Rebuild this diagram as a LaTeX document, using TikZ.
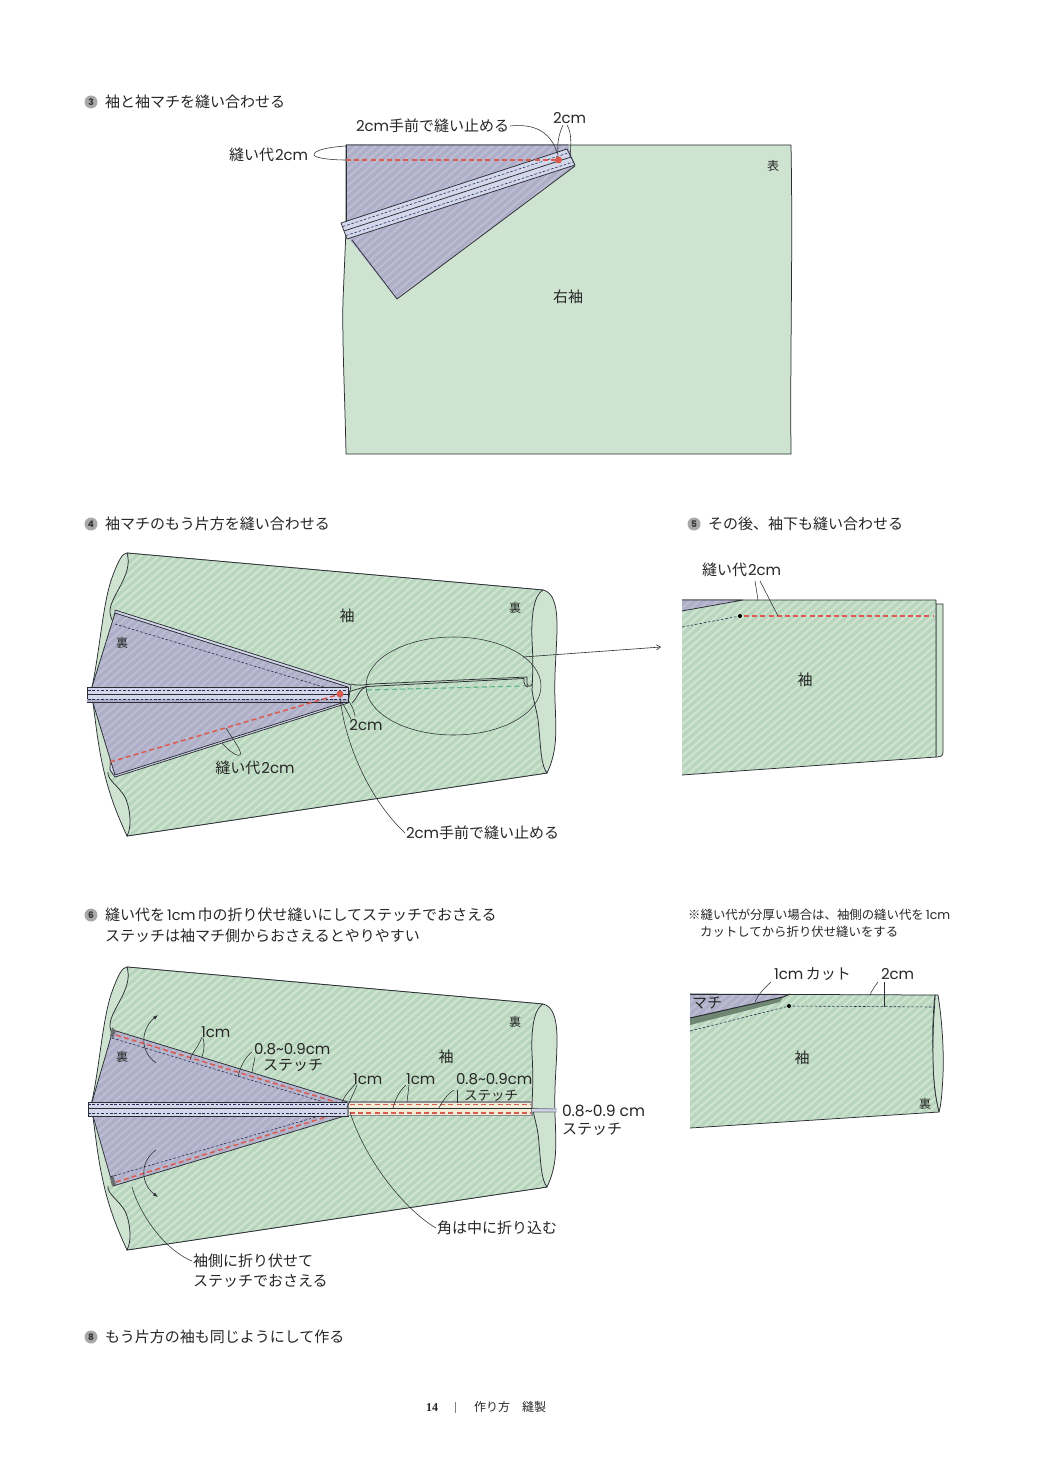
\documentclass[tikz,border=0pt]{standalone}
\usepackage{fontspec}
\setmainfont{Poppins}
\newfontfamily\jp{Noto Sans CJK JP}
\newfontfamily\lat{Poppins}
\newfontfamily\pgfnt{Liberation Serif}
\usetikzlibrary{arrows.meta}
\definecolor{grnbase}{HTML}{CFE4D0}
\definecolor{grnstripe}{HTML}{B7D6BD}
\definecolor{purbase}{HTML}{BCBCD2}
\definecolor{purstripe}{HTML}{AEAEC8}
\definecolor{stripl}{HTML}{D3D7EB}
\definecolor{ink}{HTML}{2A2D33}
\definecolor{navy}{HTML}{2B2F4F}
\definecolor{redd}{HTML}{DD5A4E}
\definecolor{grnd}{HTML}{5DB48C}
\definecolor{cream}{HTML}{F2ECD6}
\definecolor{dkgrn}{HTML}{6E8672}
\definecolor{numgray}{HTML}{A8A8A8}
\newcommand{\hatchfill}[7]{% path, base, stripe, x0, x1, ytop, ybot
  \fill[#2] #1;
  \begin{scope}
    \clip #1;
    \foreach \k in {#4,\the\numexpr#4+9\relax,...,#5}{
      \draw[#3,line width=3.4pt] (\k,#7) -- ({\k+(#7-#6)*1.15},#6);
    }
  \end{scope}}
\newcommand{\sleevepair}{%
  \path[fill=grnbase,draw=ink,edgeline]
    (127,553) -- (543,590) .. controls (553,592) and (557,605) .. (557,625)
    .. controls (557,650) and (554,670) .. (555,700)
    .. controls (556,730) and (558,750) .. (547,773)
    -- (127,836) .. controls (115,810) and (108,790) .. (103,767)
    .. controls (98,745) and (96,725) .. (93,703) -- (92,687)
    .. controls (100,650) and (103,600) .. (113,575)
    .. controls (118,562) and (122,553) .. (127,553) -- cycle;
  \hatchfill{(127,553) -- (543,590) .. controls (534,595) and (531,615) .. (532,640)
    .. controls (533,655) and (533,672) .. (532,690)
    .. controls (534,705) and (538,712) .. (539,730)
    .. controls (541,750) and (541,765) .. (547,773)
    -- (127,836) .. controls (133,825) and (129,805) .. (125,797)
    .. controls (118,785) and (107,780) .. (108,772) -- (115,760) -- (115,625)
    .. controls (108,612) and (110,607) .. (113,600)
    .. controls (120,585) and (132,570) .. (127,553) -- cycle}{grnbase}{grnstripe}{-700}{560}{545}{845}
  \path[draw=ink,edgeline]
    (127,553) -- (543,590) .. controls (534,595) and (531,615) .. (532,640)
    .. controls (533,655) and (533,672) .. (532,690)
    .. controls (534,705) and (538,712) .. (539,730)
    .. controls (541,750) and (541,765) .. (547,773)
    -- (127,836) .. controls (133,825) and (129,805) .. (125,797)
    .. controls (118,785) and (107,780) .. (108,772) (113,622)
    .. controls (108,612) and (110,607) .. (113,600)
    .. controls (120,585) and (132,570) .. (127,553);
}
\tikzset{
  edgeline/.style={line width=0.75pt,line join=round},
  inkline/.style={draw=ink,edgeline},
  leader/.style={draw=ink,line width=0.55pt},
  stitchnavy/.style={draw=navy,line width=0.6pt,dash pattern=on 2.6pt off 1.8pt},
  stitchred/.style={draw=redd,line width=1.5pt,dash pattern=on 5pt off 3.2pt},
  stitchgreen/.style={draw=grnd,line width=1.1pt,dash pattern=on 5pt off 3.2pt},
  txt/.style={inner sep=0pt,outer sep=1pt,text=black!85,font=\fontsize{15}{16}\selectfont},
  ltxt/.style={txt,anchor=west},
  head/.style={inner sep=0pt,anchor=west,text=black!85,font=\fontsize{15}{16}\selectfont\jp},
  note/.style={inner sep=0pt,anchor=west,text=black!85,font=\fontsize{12.4}{13}\selectfont\jp},
  small/.style={inner sep=0pt,text=black!85,font=\fontsize{12}{13}\selectfont\jp},
  num/.style={circle,fill=numgray,inner sep=0pt,minimum size=13pt,text=black!80,font=\fontsize{9}{9}\selectfont\bfseries\lat},
  dotred/.style={circle,fill=redd,inner sep=0pt,minimum size=7pt},
  dotblk/.style={circle,fill=black,inner sep=0pt,minimum size=4pt},
  foldarrow/.style={draw=ink,line width=0.6pt,-{Latex[length=5pt,width=3.5pt]}},
  sharp/.style={draw=ink,line width=0.6pt,-{Straight Barb[length=4pt,width=5pt]}}
}
\begin{document}
\begin{tikzpicture}[x=1pt,y=-1pt]
\fill[white] (0,0) rectangle (1042,1482);
\useasboundingbox (0,0) rectangle (1042,1482);

% ---------- heading 3
\node[num] (n3) at (91,102) {3};
\node[head] (h3) at (105,102) {袖と袖マチを縫い合わせる};

% sleeve panel 3
\path[fill=grnbase,inkline] (346,145) -- (791,145)
  .. controls (793,250) and (790,350) .. (791,454) -- (346,454)
  .. controls (345,400) and (342,340) .. (343,300) -- (346,230) -- cycle;
\node[small] (hyo) at (773,166) {表};
\node[txt] (migi) at (568,297) {\jp 右袖};

% gusset panel 3
\hatchfill{(346,145) -- (568,145) -- (575,166) -- (397,299) -- (346,235) -- cycle}{purbase}{purstripe}{-100}{600}{140}{305}
\draw[inkline] (346,145) -- (568,145) (575,166) -- (397,299) -- (352,240);
\draw[edgeline,draw=ink] (346,145) -- (346,223);
% strip
\path[fill=stripl,inkline] (341,223) -- (567,149) -- (575,165) -- (347,239) -- cycle;
\draw[inkline] (344,231) -- (571,157);
\draw[stitchnavy] (343,226.5) -- (568,153);
\draw[stitchnavy] (346,235.5) -- (573,162);
% seam
\draw[stitchred] (346,160) -- (556,160);
\node[dotred] (d3) at (558.5,160) {};

\node[ltxt] (l3a) at (355,126) {{\lat 2cm}{\jp 手前で縫い止める}};
\node[ltxt] (l3b) at (552,118) {\lat 2cm};
\node[ltxt] (l3c) at (228,155) {{\jp 縫い代}\hspace{1pt}{\lat 2cm}};
\draw[leader] (l3a.east) .. controls (530,124) and (550,128) .. (558,155);
\draw[leader] (563,125) .. controls (559,134) and (557,143) .. (558,152);
\draw[leader] (567,125) .. controls (572,133) and (571,145) .. (570,158);
\draw[leader] (346,146) .. controls (330,147) and (313,150) .. (314,155)
  .. controls (315,158) and (330,160) .. (346,160);

% ---------- heading 4
\node[num] (n4) at (91,524) {4};
\node[head] (h4) at (105,524) {袖マチのもう片方を縫い合わせる};
\sleevepair
% gusset panel 4
\path[fill=stripl,inkline] (115,610) -- (351,685) -- (348,703) -- (115,777) -- (110,770) -- (115,613) -- cycle;
\hatchfill{(115,613) -- (348,687) -- (348,701) -- (115,775) -- (93,703) -- (92,687) -- cycle}{purbase}{purstripe}{-700}{400}{600}{785}
\draw[inkline] (92,687) -- (115,613) -- (348,687) (348,701) -- (115,775) -- (93,703);
\draw[stitchnavy] (115,624) -- (337,691);
\path[fill=stripl,draw=ink,line width=0.6pt] (87,687) -- (348,687) -- (348,702) -- (87,702) -- cycle;
\draw[draw=ink,line width=0.6pt] (87,694.5) -- (348,694.5);
\fill[purstripe] (87.3,699) rectangle (347.7,701.7);
\draw[stitchnavy] (88,690) -- (347,690);
\draw[stitchnavy] (88,699) -- (347,699);
\draw[stitchred] (110,762) -- (337,695);
\node[dotred] (d4) at (340,694) {};
% open seam
\draw[inkline] (351,684) .. controls (358,686) and (362,685) .. (372,684) -- (527,677) -- (527,684)
  .. controls (528,687) and (531,687) .. (532,684);
\draw[inkline] (352,703) .. controls (358,697) and (360,688) .. (367,686.5) -- (524,678.5) -- (524,682)
  .. controls (524,685) and (526,687) .. (528,687);
\draw[inkline] (348,692) .. controls (355,690) and (360,688) .. (367,686.5);
\draw[stitchgreen] (367,690) -- (524,686);
\draw[leader] (453.5,686) ellipse [x radius=87.5pt,y radius=49pt];
\coordinate (a4s) at (523,657);
\coordinate (a4e) at (661,647);
\draw[sharp] (a4s) -- (a4e);

\node[txt] (s4) at (347,616) {\jp 袖};
\node[small] (u4a) at (515,608) {裏};
\node[small] (u4b) at (122,643) {裏};
\node[txt] (l4a) at (255,768) {{\jp 縫い代}\hspace{1pt}{\lat 2cm}};
\node[txt] (l4b) at (366,725) {\lat 2cm};
\node[ltxt] (l4c) at (405,833) {{\lat 2cm}{\jp 手前で縫い止める}};
\draw[leader] (226,728) .. controls (232,738) and (243,752) .. (240,755)
  .. controls (236,757) and (226,748) .. (222,743);
\draw[leader] (342,702) -- (351,719);
\draw[leader] (348,700) .. controls (352,706) and (354,710) .. (355,716);
\draw[leader] (340,697) .. controls (345,745) and (370,800) .. (l4c.west);

% ---------- heading 5
\node[num] (n5) at (694,524) {5};
\node[head] (h5) at (708,524) {その後、袖下も縫い合わせる};
\path[fill=grnbase,inkline] (936,604) -- (943,604) -- (943,752)
  .. controls (943,756) and (941,757) .. (936,757) -- cycle;
\hatchfill{(682,600) -- (936,600) -- (936,757) -- (682,775) -- cycle}{grnbase}{grnstripe}{200}{950}{595}{780}
\draw[inkline] (682,600) -- (936,600) -- (936,757) -- (682,775);
\hatchfill{(682,600) -- (743,600) -- (682,611) -- cycle}{purbase}{purstripe}{600}{760}{598}{613}
\draw[inkline] (682,600) -- (743,600) -- (682,611);
\draw[stitchnavy] (682,627) -- (740,616);
\node[dotblk] (d5) at (740,616) {};
\draw[stitchred] (744,616) -- (934,616);
\node[txt] (s5) at (805,680) {\jp 袖};
\node[ltxt] (l5) at (701,570) {{\jp 縫い代}\hspace{1pt}{\lat 2cm}};
\draw[leader] (755,581) -- (758,600);
\draw[leader] (760,581) -- (778,616);

% ---------- heading 6
\node[num] (n6) at (91,915) {6};
\node[head] (h6) at (105,915) {縫い代を\hspace{2pt}{\lat\fontsize{14.5}{15}\selectfont 1cm}\hspace{2pt}巾の折り伏せ縫いにしてステッチでおさえる};
\node[head] (h6b) at (105,936) {ステッチは袖マチ側からおさえるとやりやすい};
\begin{scope}[yshift=-414pt]
\sleevepair
\end{scope}
\hatchfill{(113,1030) -- (348,1102) -- (348,1115) -- (113,1186) -- (93,1116) -- (92,1102) -- cycle}{purbase}{purstripe}{-700}{400}{1020}{1195}
\draw[inkline] (92,1102) -- (113,1030) -- (348,1102) (348,1115) -- (113,1186) -- (93,1116);
\fill[ink!70] (112,1027) -- (116,1031) -- (113,1038) -- (110,1036) -- cycle;
\fill[ink!70] (110,1177) -- (113,1175) -- (116,1185) -- (112,1186) -- cycle;
\draw[stitchnavy] (112,1038) -- (340,1107);
\draw[stitchnavy] (110,1177) -- (340,1110);
\draw[stitchred] (116,1035) -- (342,1104);
\draw[stitchred] (116,1182) -- (342,1112);
\path[fill=stripl,draw=ink,line width=0.6pt] (88,1102) -- (348,1102) -- (348,1116) -- (88,1116) -- cycle;
\draw[draw=ink,line width=0.6pt] (88,1108.5) -- (348,1108.5);
\draw[stitchnavy] (88,1104.5) -- (345,1104.5);
\draw[stitchnavy] (88,1113) -- (345,1113);
% strip to the right
\path[fill=cream,draw=ink!55,line width=1.1pt] (348,1102) rectangle (532,1115.5);
\draw[draw=ink,line width=0.7pt] (348,1108.7) -- (532,1108.7);
\fill[stripl] (532,1108) -- (557,1108) -- (557,1112) -- (532,1112) -- cycle;
\draw[edgeline,draw=ink!70] (532,1108.5) -- (556,1109) (532,1112) -- (556,1112);
\draw[stitchred] (350,1104.3) -- (531,1104.3);
\draw[stitchred] (350,1113) -- (531,1113);
% folded arrows
\draw[foldarrow] (156,1063) .. controls (138,1050) and (142,1028) .. (158,1015);
\draw[foldarrow] (156,1150) .. controls (138,1163) and (142,1185) .. (158,1197);

\node[small] (u6a) at (515,1022) {裏};
\node[small] (u6b) at (122,1057) {裏};
\node[txt] (s6) at (446,1057) {\jp 袖};
\node[ltxt] (l61) at (200,1032) {\lat 1cm};
\node[ltxt] (l62) at (253,1049) {\lat 0.8\char`~0.9cm};
\node[ltxt] (l62b) at (262,1065) {\jp ステッチ};
\node[ltxt] (l63) at (352,1079) {\lat 1cm};
\node[ltxt] (l64) at (405,1079) {\lat 1cm};
\node[ltxt] (l65) at (455,1079) {\lat 0.8\char`~0.9cm};
\node[ltxt] (l65b) at (463,1095.5) {\fontsize{13.5}{14}\selectfont\jp ステッチ};
\node[ltxt] (l66) at (561,1111) {\fontsize{15.5}{16}\selectfont\lat 0.8\char`~0.9 cm};
\node[ltxt] (l66b) at (561,1129) {\jp ステッチ};
\node[ltxt] (l67) at (436,1228) {\jp 角は中に折り込む};
\node[ltxt] (l68) at (192,1261) {\jp 袖側に折り伏せて};
\node[ltxt] (l68b) at (192,1281) {\jp ステッチでおさえる};
\draw[leader] (202,1037) .. controls (198,1048) and (192,1052) .. (190,1060);
\draw[leader] (203,1038) .. controls (205,1045) and (204,1050) .. (202,1057);
\draw[leader] (252,1052) .. controls (244,1058) and (240,1068) .. (238,1077);
\draw[leader] (255,1057) -- (252,1072);
\draw[leader] (356,1083) .. controls (350,1090) and (345,1095) .. (342,1102);
\draw[leader] (357,1085) .. controls (354,1093) and (350,1100) .. (347,1108);
\draw[leader] (406,1085) .. controls (399,1091) and (395,1100) .. (393,1108);
\draw[leader] (409,1085) -- (407,1102);
\draw[leader] (454,1090) .. controls (447,1094) and (442,1102) .. (439,1108);
\draw[leader] (457,1090) -- (457,1103);
\draw[leader] (350,1112) .. controls (365,1160) and (405,1210) .. (l67.west);
\draw[leader] (132,1187) .. controls (140,1215) and (165,1250) .. (l68.west);

% ---------- note panel
\node[note] (nt1) at (688,915) {※縫い代が分厚い場合は、袖側の縫い代を\hspace{2pt}{\lat\fontsize{12.5}{13}\selectfont 1cm}};
\node[note] (nt2) at (700,932) {カットしてから折り伏せ縫いをする};
\path[fill=grnbase,inkline] (935,995) -- (938,995)
  .. controls (942,1020) and (944,1050) .. (943,1075) .. controls (942,1095) and (941,1105) .. (939,1112)
  .. controls (934,1095) and (932,1060) .. (933,1045) .. controls (933,1020) and (935,1005) .. (935,995) -- cycle;
\hatchfill{(690,994) -- (935,995) .. controls (933,1010) and (932,1040) .. (933,1055)
  .. controls (933,1085) and (936,1100) .. (939,1112) -- (690,1128) -- cycle}{grnbase}{grnstripe}{300}{950}{990}{1130}
\draw[inkline] (690,994) -- (935,995) .. controls (933,1010) and (932,1040) .. (933,1055)
  .. controls (933,1085) and (936,1100) .. (939,1112) -- (690,1128);
\hatchfill{(690,994) -- (790,994) -- (783,997) -- (690,1018) -- cycle}{purbase}{purstripe}{600}{800}{990}{1022}
\path[fill=dkgrn] (783,997) -- (780,1002) -- (690,1025) -- (690,1018) -- cycle;
\draw[line width=1pt,draw=ink] (690,994) -- (790,994);
\draw[line width=1pt,draw=ink] (690,1018) -- (783,997) -- (790,994);
\draw[stitchnavy] (690,1031) -- (789,1006) -- (935,1007);
\node[dotblk] (d7) at (789,1006) {};
\node[txt] (mc) at (707,1003) {\jp マチ};
\node[txt] (s7) at (802,1058) {\jp 袖};
\node[small] (u7) at (925,1104) {裏};
\node[ltxt] (l71) at (773,974) {{\lat 1cm}{\jp\,カット}};
\node[ltxt] (l72) at (880,974) {\lat 2cm};
\draw[leader] (771,982) .. controls (764,988) and (758,995) .. (755,1002);
\draw[leader] (878,982) .. controls (875,986) and (872,990) .. (870,995);
\draw[leader] (884,982) -- (884,1007);

% ---------- heading 8
\node[num] (n8) at (91,1337) {8};
\node[head] (h8) at (105,1337) {もう片方の袖も同じようにして作る};

% ---------- footer
\node[inner sep=0pt,font=\fontsize{12}{12}\selectfont\pgfnt\bfseries,text=black!85] (pg) at (432,1408) {14};
\draw[line width=0.4pt,draw=black!50] (455,1402) -- (455,1413);
\node[inner sep=0pt,anchor=west,font=\fontsize{12}{13}\selectfont\jp,text=black!85] (ft) at (474,1407) {作り方　縫製};
\end{tikzpicture}
\end{document}
